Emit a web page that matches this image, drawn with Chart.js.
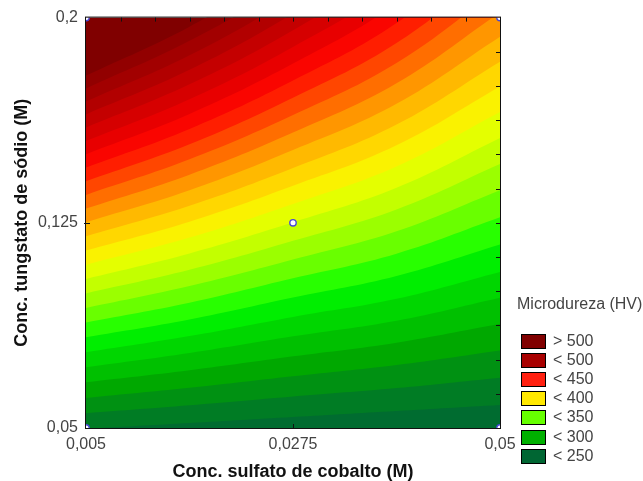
<!DOCTYPE html>
<html>
<head>
<meta charset="utf-8">
<script src="https://cdn.jsdelivr.net/npm/chart.js@4.4.0/dist/chart.umd.min.js"></script>
<style>
  html, body { margin: 0; padding: 0; background: #fff; }
  #wrap { position: relative; width: 643px; height: 481px; font-family: "Liberation Sans", Arial, sans-serif; }
  #chart { position: absolute; left: 0; top: 0; }
  #legendTitle { position: absolute; left: 517px; top: 295px; font-size: 16px; line-height: 18px; color: #444; white-space: nowrap; }
  .lg-row { position: absolute; left: 521px; height: 15px; }
  .lg-box { position: absolute; left: 0; top: 0; width: 25px; height: 15px; box-sizing: border-box; border: 1px solid #000; }
  .lg-text { position: absolute; left: 32px; top: -2px; font-size: 16px; line-height: 18px; color: #444; white-space: nowrap; }
</style>
</head>
<body>
<div id="wrap">
  <canvas id="chart" width="643" height="481"></canvas>
  <div id="legendTitle">Microdureza (HV)</div>
  <div id="legend"></div>
</div>
<script>
// contour levels (HV), highest first
const levels = [530, 520, 510, 500, 490, 480, 470, 460, 450, 440, 430, 420, 410, 400, 390, 380, 370, 360, 350, 340, 330, 320, 310, 300, 290, 280];

// cobalt sulfate positions where the contour lines were read
const cobaltX = [0.005, 0.01625, 0.0275, 0.03875, 0.05];

// tungstate value of each contour (same order as levels) at each cobaltX
const yAt0005  = [0.1788, 0.1741, 0.1693, 0.1646, 0.1598, 0.1549, 0.1501, 0.1452, 0.1402, 0.1352, 0.1302, 0.1252, 0.1201, 0.1149, 0.1097, 0.1045, 0.0992, 0.0939, 0.0886, 0.0832, 0.0777, 0.0722, 0.0667, 0.0610, 0.0554, 0.0497];
const yAt01625 = [0.1967, 0.1915, 0.1862, 0.1809, 0.1756, 0.1702, 0.1648, 0.1593, 0.1537, 0.1482, 0.1426, 0.1369, 0.1312, 0.1254, 0.1196, 0.1138, 0.1078, 0.1019, 0.0958, 0.0897, 0.0836, 0.0774, 0.0711, 0.0647, 0.0583, 0.0518];
const yAt0275  = [0.2194, 0.2134, 0.2075, 0.2015, 0.1954, 0.1893, 0.1832, 0.1770, 0.1707, 0.1644, 0.1580, 0.1516, 0.1450, 0.1385, 0.1319, 0.1252, 0.1184, 0.1116, 0.1047, 0.0977, 0.0906, 0.0835, 0.0762, 0.0689, 0.0615, 0.0540];
const yAt03875 = [0.2469, 0.2401, 0.2332, 0.2263, 0.2193, 0.2123, 0.2052, 0.1980, 0.1907, 0.1834, 0.1760, 0.1685, 0.1609, 0.1533, 0.1456, 0.1378, 0.1299, 0.1219, 0.1137, 0.1056, 0.0972, 0.0892, 0.0812, 0.0730, 0.0646, 0.0562];
const yAt005   = [0.2863, 0.2782, 0.2701, 0.2619, 0.2536, 0.2452, 0.2367, 0.2282, 0.2195, 0.2108, 0.2019, 0.1930, 0.1839, 0.1748, 0.1655, 0.1560, 0.1465, 0.1369, 0.1270, 0.1171, 0.1070, 0.0976, 0.0881, 0.0783, 0.0684, 0.0584];

// design points of the experiment
const designX = [0.005, 0.005, 0.05, 0.05, 0.0275];
const designY = [0.05, 0.2, 0.05, 0.2, 0.125];

const xTicks = [0.005, 0.0275, 0.05];
const yTicks = [0.05, 0.125, 0.2];

const legendLabels = ['> 500', '< 500', '< 450', '< 400', '< 350', '< 300', '< 250'];

// colours
const topColor = 'rgb(128,0,0)';
const bandColors = [ // band just below each level
  'rgb(146,0,0)', 'rgb(162,0,0)', 'rgb(178,0,0)', 'rgb(196,0,0)', 'rgb(214,0,0)',
  'rgb(232,0,0)', 'rgb(250,5,0)', 'rgb(255,30,0)', 'rgb(255,70,0)', 'rgb(255,110,0)',
  'rgb(255,150,0)', 'rgb(255,185,0)', 'rgb(255,215,0)', 'rgb(250,242,0)', 'rgb(228,255,0)',
  'rgb(195,255,0)', 'rgb(155,255,0)', 'rgb(105,255,0)', 'rgb(40,255,0)', 'rgb(0,238,0)',
  'rgb(0,214,0)', 'rgb(0,192,0)', 'rgb(0,168,0)', 'rgb(0,145,18)', 'rgb(0,124,36)',
  'rgb(0,108,48)'
];
const legendColors = ['#800000', '#a80000', '#ff2010', '#ffe800', '#66ff00', '#00b000', '#006633'];

const fontFamily = '"Liberation Sans", Arial, sans-serif';
Chart.defaults.font.family = fontFamily;

const fmt = v => String(+v.toFixed(4)).replace('.', ',');

const columns = [yAt0005, yAt01625, yAt0275, yAt03875, yAt005];

// one filled line per contour level, filled down to the axis
const contourSets = levels.map((lv, i) => ({
  label: lv + ' HV',
  data: cobaltX.map((cx, j) => ({ x: cx, y: columns[j][i] })),
  borderWidth: 0,
  borderColor: 'rgba(0,0,0,0)',
  backgroundColor: bandColors[i],
  fill: 'start',
  pointRadius: 0,
  tension: 0.4
}));

const designSet = {
  label: 'pontos',
  data: designX.map((x, i) => ({ x, y: designY[i] })),
  showLine: false,
  pointRadius: 3.2,
  pointBorderWidth: 1.4,
  pointBackgroundColor: '#ffffff',
  pointBorderColor: '#4848d8'
};

// plot background, frame and the small inner ticks
const frameTicks = {
  id: 'frameTicks',
  beforeDatasetsDraw(chart) {
    const { ctx, chartArea: a } = chart;
    ctx.save();
    ctx.fillStyle = topColor;
    ctx.fillRect(a.left, a.top, a.right - a.left, a.bottom - a.top);
    ctx.restore();
  },
  afterDatasetsDraw(chart) {
    const { ctx, chartArea: a, scales: { x, y } } = chart;
    ctx.save();
    ctx.strokeStyle = '#111';
    ctx.lineWidth = 1;
    ctx.strokeRect(a.left - 0.5, a.top - 0.5, a.right - a.left + 1, a.bottom - a.top + 1);
    ctx.beginPath();
    for (let k = 1; k < 12; k++) {
      const px = Math.round(x.getPixelForValue(x.min + k * (x.max - x.min) / 12)) + 0.5;
      ctx.moveTo(px, a.top);
      ctx.lineTo(px, a.top + 4);
      const py = Math.round(y.getPixelForValue(y.min + k * (y.max - y.min) / 12)) + 0.5;
      ctx.moveTo(a.right, py);
      ctx.lineTo(a.right - 4, py);
    }
    const mx = Math.round(x.getPixelForValue(xTicks[1])) + 0.5;
    ctx.moveTo(mx, a.bottom);
    ctx.lineTo(mx, a.bottom - 4);
    const my = Math.round(y.getPixelForValue(yTicks[1])) + 0.5;
    ctx.moveTo(a.left - 2, my);
    ctx.lineTo(a.left + 4, my);
    ctx.stroke();
    ctx.restore();
  }
};

new Chart(document.getElementById('chart'), {
  type: 'line',
  data: { datasets: [designSet, ...contourSets.slice().reverse()] },
  options: {
    responsive: false,
    animation: false,
    events: [],
    layout: { padding: { left: 0, right: 143, top: 17, bottom: 0 } },
    elements: { line: { capBezierPoints: false } },
    plugins: { legend: { display: false }, tooltip: { enabled: false } },
    scales: {
      x: {
        type: 'linear', min: 0.005, max: 0.05,
        afterBuildTicks: s => { s.ticks = xTicks.map(v => ({ value: v })); },
        afterFit: s => { s.height = 53; },
        grid: { display: false, drawTicks: false },
        border: { display: false },
        ticks: { padding: 7, color: '#444', font: { size: 16 }, maxRotation: 0, autoSkip: false, callback: v => fmt(v) },
        title: { display: true, text: 'Conc. sulfato de cobalto (M)', color: '#111', font: { size: 18, weight: 'bold' }, padding: { top: 0, bottom: -2 } }
      },
      y: {
        type: 'linear', min: 0.05, max: 0.2,
        afterBuildTicks: s => { s.ticks = yTicks.map(v => ({ value: v })); },
        afterFit: s => { s.width = 86; },
        grid: { display: false, drawTicks: false },
        border: { display: false },
        ticks: { padding: 8, color: '#444', font: { size: 16 }, autoSkip: false, callback: v => fmt(v) },
        title: { display: true, text: 'Conc. tungstato de sódio (M)', color: '#111', font: { size: 18, weight: 'bold' }, padding: { top: 11, bottom: 0 } }
      }
    }
  },
  plugins: [frameTicks]
});

// legend
const legendEl = document.getElementById('legend');
legendLabels.forEach((txt, i) => {
  const row = document.createElement('div');
  row.className = 'lg-row';
  row.style.top = (334 + i * 19.1) + 'px';
  const box = document.createElement('div');
  box.className = 'lg-box';
  box.style.background = legendColors[i];
  const label = document.createElement('div');
  label.className = 'lg-text';
  label.textContent = txt;
  row.appendChild(box);
  row.appendChild(label);
  legendEl.appendChild(row);
});
</script>
</body>
</html>
